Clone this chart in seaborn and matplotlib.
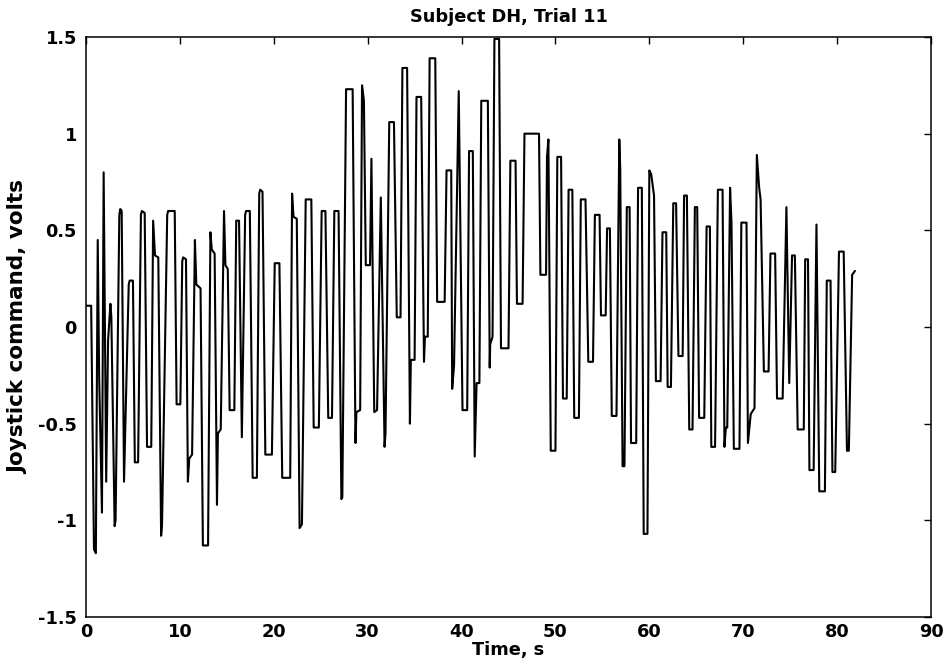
import matplotlib
matplotlib.use("Agg")
import matplotlib.pyplot as plt
import seaborn as sns
import pandas as pd
from matplotlib.ticker import FormatStrFormatter, FixedLocator

# Breakpoints of the joystick command trace (time in s, command in volts)
time_s = [
    0.0, 0.55, 0.85, 1.05, 1.25, 1.4, 1.7, 1.88, 2.15, 2.35, 2.6, 2.7, 3.05, 3.15,
    3.55, 3.65, 3.8, 4.05, 4.55, 4.65, 5.0, 5.2, 5.55, 5.85, 5.95, 6.25, 6.5, 6.95,
    7.15, 7.35, 7.7, 8.0, 8.1, 8.65, 8.75, 9.45, 9.65, 10.05, 10.25, 10.35, 10.65,
    10.85, 11.0, 11.3, 11.6, 11.75, 12.2, 12.45, 13.0, 13.25, 13.4, 13.7, 13.95,
    14.05, 14.35, 14.7, 14.85, 15.1, 15.3, 15.8, 16.0, 16.3, 16.6, 16.95, 17.05,
    17.45, 17.75, 18.2, 18.45, 18.55, 18.8, 19.1, 19.8, 20.1, 20.6, 20.9, 21.75,
    21.95, 22.1, 22.45, 22.75, 23.0, 23.4, 24.0, 24.25, 24.8, 25.1, 25.5, 25.8,
    26.2, 26.45, 26.9, 27.2, 27.3, 27.7, 28.4, 28.7, 28.8, 29.2, 29.4, 29.6, 29.8,
    30.25, 30.4, 30.7, 31.0, 31.4, 31.8, 31.9, 32.3, 32.8, 33.1, 33.5, 33.7, 34.2,
    34.5, 34.6, 35.0, 35.2, 35.7, 36.0, 36.1, 36.4, 36.6, 37.2, 37.4, 38.2, 38.4,
    38.9, 39.0, 39.2, 39.7, 40.1, 40.6, 40.8, 41.2, 41.4, 41.6, 41.9, 42.1, 42.8,
    43.0, 43.05, 43.3, 43.5, 44.0, 44.2, 45.0, 45.2, 45.75, 45.9, 46.5, 46.7,
    48.25, 48.4, 49.0, 49.1, 49.25, 49.5, 50.0, 50.2, 50.6, 50.8, 51.2, 51.4,
    51.8, 52.0, 52.5, 52.7, 53.2, 53.5, 54.0, 54.2, 54.7, 54.85, 55.35, 55.5,
    55.8, 56.0, 56.5, 56.8, 56.9, 57.15, 57.35, 57.6, 57.9, 58.05, 58.6, 58.8,
    59.2, 59.4, 59.8, 60.0, 60.2, 60.5, 60.7, 61.2, 61.4, 61.8, 61.95, 62.3,
    62.55, 62.85, 63.1, 63.55, 63.7, 64.0, 64.25, 64.6, 64.85, 65.1, 65.3, 65.85,
    66.1, 66.45, 66.6, 67.0, 67.3, 67.8, 68.0, 68.15, 68.3, 68.6, 68.75, 69.0,
    69.6, 69.8, 70.35, 70.5, 70.8, 71.2, 71.45, 71.7, 71.85, 72.2, 72.7, 72.9,
    73.4, 73.6, 74.2, 74.6, 74.9, 75.2, 75.5, 75.8, 76.45, 76.6, 76.9, 77.05,
    77.5, 77.8, 78.1, 78.7, 78.9, 79.3, 79.5, 79.8, 80.2, 80.7, 81.05, 81.25,
    81.6, 81.9,
]
command_v = [
    0.11, 0.11, -1.15, -1.17, 0.45, -0.25, -0.96, 0.80, -0.80, -0.07, 0.12, 0.05, -1.03, -1.0,
    0.58, 0.61, 0.60, -0.80, 0.22, 0.24, 0.24, -0.70, -0.70, 0.58, 0.60, 0.59, -0.62, -0.62,
    0.55, 0.37, 0.36, -1.08, -1.02, 0.58, 0.60, 0.60, -0.40, -0.40, 0.34, 0.36, 0.35,
    -0.80, -0.68, -0.66, 0.45, 0.22, 0.20, -1.13, -1.13, 0.49, 0.40, 0.38, -0.92,
    -0.55, -0.53, 0.60, 0.32, 0.30, -0.43, -0.43, 0.55, 0.55, -0.57, 0.58, 0.60,
    0.60, -0.78, -0.78, 0.69, 0.71, 0.70, -0.66, -0.66, 0.33, 0.33, -0.78, -0.78,
    0.69, 0.57, 0.56, -1.04, -1.02, 0.66, 0.66, -0.52, -0.52, 0.60, 0.60, -0.47,
    -0.47, 0.60, 0.60, -0.89, -0.88, 1.23, 1.23, -0.60, -0.44, -0.43, 1.25, 1.17, 0.32,
    0.32, 0.87, -0.44, -0.43, 0.67, -0.62, -0.55, 1.06, 1.06, 0.05, 0.05, 1.34, 1.34,
    -0.50, -0.17, -0.17, 1.19, 1.19, -0.18, -0.05, -0.05, 1.39, 1.39, 0.13, 0.13, 0.81,
    0.81, -0.32, -0.20, 1.22, -0.43, -0.43, 0.91, 0.91, -0.67, -0.29, -0.29, 1.17, 1.17,
    -0.21, -0.09, -0.05, 1.49, 1.49, -0.11, -0.11, 0.86, 0.86, 0.12, 0.12, 1.00,
    1.00, 0.27, 0.27, 0.88, 0.97, -0.64, -0.64, 0.88, 0.88, -0.37, -0.37, 0.71,
    0.71, -0.47, -0.47, 0.66, 0.66, -0.18, -0.18, 0.58, 0.58, 0.06, 0.06, 0.51,
    0.51, -0.46, -0.46, 0.97, 0.82, -0.72, -0.72, 0.62, 0.62, -0.60, -0.60, 0.72,
    0.72, -1.07, -1.07, 0.81, 0.79, 0.68, -0.28, -0.28, 0.49, 0.49, -0.31, -0.31,
    0.64, 0.64, -0.15, -0.15, 0.68, 0.68, -0.53, -0.53, 0.62, 0.62, -0.47, -0.47,
    0.52, 0.52, -0.62, -0.62, 0.71, 0.71, -0.62, -0.52, -0.52, 0.72, 0.54, -0.63,
    -0.63, 0.54, 0.54, -0.60, -0.45, -0.42, 0.89, 0.72, 0.66, -0.23, -0.23, 0.38,
    0.38, -0.37, -0.37, 0.62, -0.29, 0.37, 0.37, -0.53, -0.53, 0.35, 0.35, -0.74,
    -0.74, 0.53, -0.85, -0.85, 0.24, 0.24, -0.75, -0.75, 0.39, 0.39, -0.64, -0.64,
    0.27, 0.29,
]

x_ticks = [0, 10, 20, 30, 40, 50, 60, 70, 80, 90]
y_ticks = [-1.5, -1, -0.5, 0, 0.5, 1, 1.5]
title = "Subject DH, Trial 11"
x_label = "Time, s"
y_label = "Joystick command, volts"

sns.set_theme(style="white")
plt.rcParams["font.family"] = ["DejaVu Sans"]
plt.rcParams["axes.unicode_minus"] = False

df = pd.DataFrame({"t": time_s, "v": command_v})

fig = plt.figure(figsize=(9.47, 6.65), dpi=100)
ax = fig.add_axes([86 / 947, 1 - 617 / 665, (931 - 86) / 947, (617 - 37) / 665])
sns.lineplot(data=df, x="t", y="v", sort=False, estimator=None, color="black",
             linewidth=1.5, ax=ax)

FS = 12.8
ax.set_xlim(0, 90)
ax.set_ylim(-1.5, 1.5)
ax.xaxis.set_major_locator(FixedLocator(x_ticks))
ax.yaxis.set_major_locator(FixedLocator(y_ticks))
ax.yaxis.set_major_formatter(FormatStrFormatter("%g"))
ax.xaxis.set_major_formatter(FormatStrFormatter("%g"))
ax.tick_params(direction="in", length=5, width=1, top=True, right=True,
               labelsize=FS, colors="black")
ax.tick_params(axis="x", pad=4.5)
ax.tick_params(axis="y", pad=6.5)
for lab in ax.get_xticklabels() + ax.get_yticklabels():
    lab.set_fontweight("bold")
for s in ax.spines.values():
    s.set_color("black")
    s.set_linewidth(1.1)

ax.set_title(title, fontsize=FS, fontweight="bold", color="black", pad=11)
ax.set_xlabel(x_label, fontsize=FS, fontweight="bold", color="black", labelpad=-0.5)
ax.set_ylabel(y_label, fontsize=15.5, fontweight="bold", color="black")
ax.yaxis.set_label_coords(-0.068, 0.5)
ax.grid(False)

fig.savefig("out.png", dpi=100)
